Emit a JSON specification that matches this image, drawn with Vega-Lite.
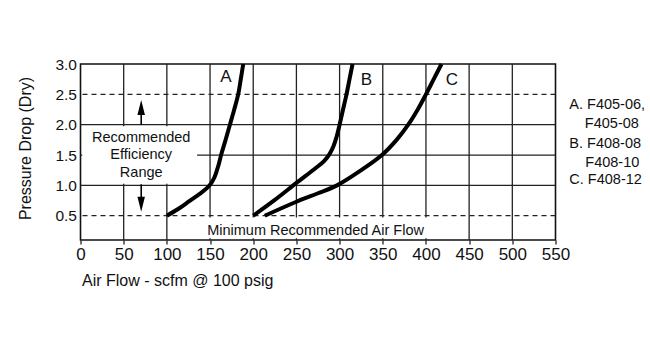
{
  "$schema": "https://vega.github.io/schema/vega-lite/v6.json",
  "width": 475,
  "height": 176,
  "autosize": {"type": "none"},
  "padding": {"left": 80.5, "top": 64, "right": 94.5, "bottom": 107},
  "background": "white",
  "config": {
    "view": {"stroke": "#111", "strokeWidth": 1.6},
    "font": "Liberation Sans",
    "text": {"font": "Liberation Sans", "color": "#111"},
    "axis": {"grid": false, "domain": false, "labelColor": "#111", "titleColor": "#111", "titleFontWeight": "normal", "labelFlush": false, "labelOverlap": false}
  },
  "datasets": {
    "gridV": [{"x": 50}, {"x": 100}, {"x": 150}, {"x": 200}, {"x": 250}, {"x": 300}, {"x": 350}, {"x": 400}, {"x": 450}, {"x": 500}],
    "gridH": [{"y": 1.0}, {"y": 1.5}, {"y": 2.0}],
    "gridDash": [{"y": 0.5}, {"y": 2.5}],
    "boxes": [
      {"x": 2, "x2": 135, "y": 1.025, "y2": 1.975},
      {"x": 143, "x2": 404, "y": 0.13, "y2": 0.47}
    ],
    "curves": [
      {"series": "A", "x": 100, "y": 0.5},
      {"series": "A", "x": 113, "y": 0.61},
      {"series": "A", "x": 126, "y": 0.74},
      {"series": "A", "x": 138, "y": 0.86},
      {"series": "A", "x": 146, "y": 0.95},
      {"series": "A", "x": 151, "y": 1.03},
      {"series": "A", "x": 155, "y": 1.13},
      {"series": "A", "x": 158, "y": 1.25},
      {"series": "A", "x": 160.5, "y": 1.37},
      {"series": "A", "x": 162.8, "y": 1.5},
      {"series": "A", "x": 168, "y": 1.75},
      {"series": "A", "x": 173, "y": 2.0},
      {"series": "A", "x": 178, "y": 2.25},
      {"series": "A", "x": 182.6, "y": 2.5},
      {"series": "A", "x": 185.6, "y": 2.75},
      {"series": "A", "x": 188.4, "y": 3.0},
      {"series": "B", "x": 200, "y": 0.5},
      {"series": "B", "x": 225, "y": 0.76},
      {"series": "B", "x": 250, "y": 1.04},
      {"series": "B", "x": 271, "y": 1.27},
      {"series": "B", "x": 282, "y": 1.4},
      {"series": "B", "x": 288.5, "y": 1.52},
      {"series": "B", "x": 293, "y": 1.65},
      {"series": "B", "x": 296.5, "y": 1.8},
      {"series": "B", "x": 300, "y": 2.0},
      {"series": "B", "x": 304, "y": 2.25},
      {"series": "B", "x": 308, "y": 2.5},
      {"series": "B", "x": 311.5, "y": 2.75},
      {"series": "B", "x": 315, "y": 3.0},
      {"series": "C", "x": 213.4, "y": 0.5},
      {"series": "C", "x": 250, "y": 0.73},
      {"series": "C", "x": 275, "y": 0.87},
      {"series": "C", "x": 297, "y": 1.0},
      {"series": "C", "x": 325, "y": 1.25},
      {"series": "C", "x": 349, "y": 1.5},
      {"series": "C", "x": 366, "y": 1.75},
      {"series": "C", "x": 379.5, "y": 2.0},
      {"series": "C", "x": 390.5, "y": 2.25},
      {"series": "C", "x": 400, "y": 2.5},
      {"series": "C", "x": 409, "y": 2.75},
      {"series": "C", "x": 418, "y": 3.0}
    ],
    "arrows": [
      {"dir": "up", "x": 70.3, "y": 2.0, "head": 2.284},
      {"dir": "down", "x": 70.3, "y": 1.018, "head": 0.69}
    ],
    "rangeText": [
      {"x": 70.3, "y": 1.72, "text": "Recommended"},
      {"x": 70.3, "y": 1.43, "text": "Efficiency"},
      {"x": 70.3, "y": 1.143, "text": "Range"}
    ],
    "minText": [{"x": 146.7, "y": 0.183, "text": "Minimum Recommended Air Flow"}],
    "curveLabels": [
      {"x": 168.3, "y": 2.703, "text": "A"},
      {"x": 331, "y": 2.654, "text": "B"},
      {"x": 430, "y": 2.654, "text": "C"}
    ],
    "legendText": [
      {"x": 566, "y": 2.254, "text": "A. F405-06,"},
      {"x": 584, "y": 1.941, "text": "F405-08"},
      {"x": 566, "y": 1.611, "text": "B. F408-08"},
      {"x": 584.5, "y": 1.298, "text": "F408-10"},
      {"x": 566, "y": 1.018, "text": "C. F408-12"}
    ]
  },
  "layer": [
    {
      "data": {"name": "gridV"},
      "mark": {"type": "rule", "color": "#222", "strokeWidth": 1.3},
      "encoding": {
        "x": {
          "field": "x", "type": "quantitative",
          "scale": {"domain": [0, 550], "nice": false, "zero": false},
          "axis": {
            "values": [0, 50, 100, 150, 200, 250, 300, 350, 400, 450, 500, 550],
            "tickCount": 20,
            "title": "Air Flow - scfm @ 100 psig",
            "grid": false, "domain": false,
            "ticks": true, "tickSize": 4, "tickColor": "#111", "tickWidth": 1.2,
            "labelFont": "Liberation Sans", "labelFontSize": 17, "labelColor": "#111",
            "labelPadding": 2, "labelFlush": false, "labelOverlap": false,
            "titleFont": "Liberation Sans", "titleFontSize": 16, "titleFontWeight": "normal", "titleColor": "#111",
            "titleX": 1, "titleY": 45, "titleAlign": "left", "titleBaseline": "alphabetic", "titleAnchor": "start"
          }
        }
      }
    },
    {
      "data": {"name": "gridH"},
      "mark": {"type": "rule", "color": "#222", "strokeWidth": 1.3},
      "encoding": {
        "y": {
          "field": "y", "type": "quantitative",
          "scale": {"domain": [0.1, 3.0], "nice": false, "zero": false},
          "axis": {
            "values": [0.5, 1, 1.5, 2, 2.5, 3], "format": ".1f",
            "tickCount": 12,
            "title": "Pressure Drop (Dry)",
            "grid": false, "domain": false, "ticks": false, "tickSize": 0,
            "labelFont": "Liberation Sans", "labelFontSize": 15.5, "labelColor": "#111",
            "labelPadding": 4, "labelFlush": false, "labelOverlap": false,
            "titleFont": "Liberation Sans", "titleFontSize": 16, "titleFontWeight": "normal", "titleColor": "#111",
            "titleX": -50.5, "titleY": 84, "titleAlign": "center", "titleBaseline": "alphabetic", "titleAngle": -90
          }
        }
      }
    },
    {
      "data": {"name": "gridDash"},
      "mark": {"type": "rule", "color": "#222", "strokeWidth": 1.2, "strokeDash": [5, 4]},
      "encoding": {
        "y": {"field": "y", "type": "quantitative", "scale": {"domain": [0.1, 3.0], "nice": false, "zero": false}}
      }
    },
    {
      "data": {"name": "boxes"},
      "mark": {"type": "rect", "fill": "white"},
      "encoding": {
        "x": {"field": "x", "type": "quantitative", "scale": {"domain": [0, 550], "nice": false, "zero": false}},
        "x2": {"field": "x2"},
        "y": {"field": "y", "type": "quantitative", "scale": {"domain": [0.1, 3.0], "nice": false, "zero": false}},
        "y2": {"field": "y2"}
      }
    },
    {
      "data": {"name": "curves"},
      "mark": {"type": "line", "color": "black", "strokeWidth": 4, "interpolate": "catmull-rom"},
      "encoding": {
        "x": {"field": "x", "type": "quantitative", "scale": {"domain": [0, 550], "nice": false, "zero": false}},
        "y": {"field": "y", "type": "quantitative", "scale": {"domain": [0.1, 3.0], "nice": false, "zero": false}},
        "detail": {"field": "series"}
      }
    },
    {
      "data": {"name": "arrows"},
      "mark": {"type": "rule", "color": "black", "strokeWidth": 1.6},
      "encoding": {
        "x": {"field": "x", "type": "quantitative", "scale": {"domain": [0, 550], "nice": false, "zero": false}},
        "y": {"field": "y", "type": "quantitative", "scale": {"domain": [0.1, 3.0], "nice": false, "zero": false}},
        "y2": {"field": "head"}
      }
    },
    {
      "data": {"name": "arrows"},
      "mark": {"type": "point", "filled": true, "color": "black", "opacity": 1, "size": 225, "strokeWidth": 0},
      "encoding": {
        "x": {"field": "x", "type": "quantitative", "scale": {"domain": [0, 550], "nice": false, "zero": false}},
        "y": {"field": "head", "type": "quantitative", "scale": {"domain": [0.1, 3.0], "nice": false, "zero": false}},
        "shape": {
          "field": "dir", "type": "nominal",
          "scale": {"domain": ["up", "down"], "range": ["M0,-1L0.5,1L-0.5,1Z", "M0,1L0.5,-1L-0.5,-1Z"]},
          "legend": null
        }
      }
    },
    {
      "data": {"name": "rangeText"},
      "mark": {"type": "text", "fontSize": 14.5, "align": "center", "baseline": "alphabetic", "color": "#111"},
      "encoding": {
        "x": {"field": "x", "type": "quantitative", "scale": {"domain": [0, 550], "nice": false, "zero": false}},
        "y": {"field": "y", "type": "quantitative", "scale": {"domain": [0.1, 3.0], "nice": false, "zero": false}},
        "text": {"field": "text"}
      }
    },
    {
      "data": {"name": "minText"},
      "mark": {"type": "text", "fontSize": 14.5, "align": "left", "baseline": "alphabetic", "color": "#111"},
      "encoding": {
        "x": {"field": "x", "type": "quantitative", "scale": {"domain": [0, 550], "nice": false, "zero": false}},
        "y": {"field": "y", "type": "quantitative", "scale": {"domain": [0.1, 3.0], "nice": false, "zero": false}},
        "text": {"field": "text"}
      }
    },
    {
      "data": {"name": "curveLabels"},
      "mark": {"type": "text", "fontSize": 17, "align": "center", "baseline": "alphabetic", "color": "#111"},
      "encoding": {
        "x": {"field": "x", "type": "quantitative", "scale": {"domain": [0, 550], "nice": false, "zero": false}},
        "y": {"field": "y", "type": "quantitative", "scale": {"domain": [0.1, 3.0], "nice": false, "zero": false}},
        "text": {"field": "text"}
      }
    },
    {
      "data": {"name": "legendText"},
      "mark": {"type": "text", "fontSize": 14.5, "align": "left", "baseline": "alphabetic", "color": "#111"},
      "encoding": {
        "x": {"field": "x", "type": "quantitative", "scale": {"domain": [0, 550], "nice": false, "zero": false}},
        "y": {"field": "y", "type": "quantitative", "scale": {"domain": [0.1, 3.0], "nice": false, "zero": false}},
        "text": {"field": "text"}
      }
    }
  ]
}
